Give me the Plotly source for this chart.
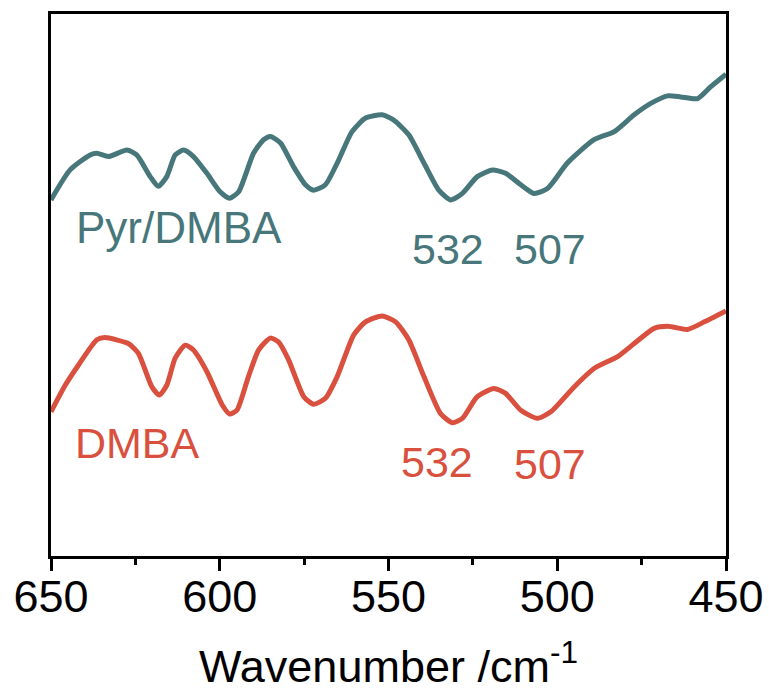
import plotly.graph_objects as go

# FT-IR spectra, offset for clarity (arbitrary intensity units)
wn_pyr = [650, 644.4, 638.4, 636.4, 633, 627.5, 624.6, 620.6, 618.2, 615.7, 613.2, 610.7,
          607.8, 603.8, 599.9, 597.1, 594.4, 590, 587, 585, 582, 578.1, 574.6, 572.2,
          568.7, 565.2, 560.8, 556.8, 551.9, 548.4, 544, 539.5, 535.1, 531.6, 528.1,
          523.7, 519.2, 515.3, 510.8, 506.9, 502.9, 497, 489.1, 483.1, 477.2, 472.3,
          467.3, 463.4, 458.4, 454.5, 450]
int_pyr = [65.7, 71.2, 74.0, 74.3, 73.7, 74.9, 74.0, 70.0, 68.2, 70.0, 74.0, 74.9,
           73.7, 70.6, 67.2, 66.0, 67.2, 74.3, 76.8, 77.4, 76.2, 71.8, 68.5, 67.5,
           68.5, 72.5, 78.3, 80.8, 81.4, 80.4, 77.7, 72.5, 67.5, 65.7, 66.9,
           70.0, 71.2, 70.6, 68.5, 66.9, 67.8, 72.5, 76.8, 78.3, 81.4, 83.5,
           84.9, 84.7, 84.4, 86.6, 88.9]

wn_dmba = [650, 645.8, 641.9, 636.4, 634, 627.1, 624.1, 620.1, 617.9, 615.7, 613.2, 610.2,
           607.8, 603.8, 599.3, 597.1, 594.9, 591.5, 588.5, 585, 582.6, 579.6, 575.1,
           572.2, 568.7, 565.2, 560.3, 556.8, 551.9, 547.9, 544, 539.5, 534.6, 531.1,
           528.1, 523.7, 518.8, 515.3, 510.8, 505.9, 501.9, 495, 489.1, 482.1, 477.2,
           471.3, 467.3, 461.4, 456.4, 450]
int_dmba = [26.6, 31.5, 35.2, 39.9, 40.3, 39.2, 37.4, 31.2, 29.7, 31.5, 36.5, 38.9,
            38.0, 34.0, 27.9, 26.2, 26.9, 33.1, 38.0, 40.2, 39.5, 36.2, 29.4,
            28.0, 29.1, 33.1, 40.8, 43.2, 44.3, 43.2, 39.9, 33.1, 26.3, 24.6,
            25.4, 29.4, 30.9, 30.0, 26.9, 25.4, 26.6, 31.2, 34.6, 36.8, 39.2,
            42.0, 42.4, 41.8, 43.2, 45.2]

x_ticks = [650, 600, 550, 500, 450]

TEAL = "#47777a"
RED = "#d9503e"
FONT = "Liberation Sans, Arial, sans-serif"

fig = go.Figure()
fig.add_trace(go.Scatter(x=wn_pyr, y=int_pyr, mode="lines",
                         line=dict(color=TEAL, width=5, shape="spline", smoothing=0.6),
                         name="Pyr/DMBA", hoverinfo="skip"))
fig.add_trace(go.Scatter(x=wn_dmba, y=int_dmba, mode="lines",
                         line=dict(color=RED, width=5, shape="spline", smoothing=0.6),
                         name="DMBA", hoverinfo="skip"))

labels = [
    ("Pyr/DMBA", 612.0, 60.6, TEAL, 44),
    ("532", 532.5, 56.7, TEAL, 43),
    ("507", 502.2, 56.7, TEAL, 43),
    ("DMBA", 624.3, 20.9, RED, 43),
    ("532", 535.5, 17.3, RED, 43),
    ("507", 502.2, 17.0, RED, 43),
]
for text, x, y, color, size in labels:
    fig.add_annotation(x=x, y=y, xref="x", yref="y", text=text, showarrow=False,
                       xanchor="center", yanchor="middle",
                       font=dict(family=FONT, size=size, color=color))

fig.update_xaxes(
    range=[650, 450], tickvals=x_ticks, ticktext=[str(v) for v in x_ticks],
    ticks="outside", ticklen=12, tickwidth=2.5, tickcolor="black",
    minor=dict(ticks="outside", ticklen=6, tickwidth=2.5, tickcolor="black", dtick=25),
    showline=True, linecolor="black", linewidth=2.5, mirror=True,
    showgrid=False, zeroline=False, automargin=False,
    tickfont=dict(family=FONT, size=45, color="black"),
    ticklabelstandoff=-13,
    title=dict(text="Wavenumber /cm<sup>-1</sup>", standoff=30,
               font=dict(family=FONT, size=45, color="black")),
)
fig.update_yaxes(
    range=[0, 100], showticklabels=False, ticks="",
    showline=True, linecolor="black", linewidth=2.5, mirror=True,
    showgrid=False, zeroline=False, automargin=False,
)
fig.update_layout(
    width=769, height=698,
    margin=dict(l=51, r=43, t=14, b=142),
    paper_bgcolor="white", plot_bgcolor="white",
    showlegend=False,
)

fig.write_html("out.html")
